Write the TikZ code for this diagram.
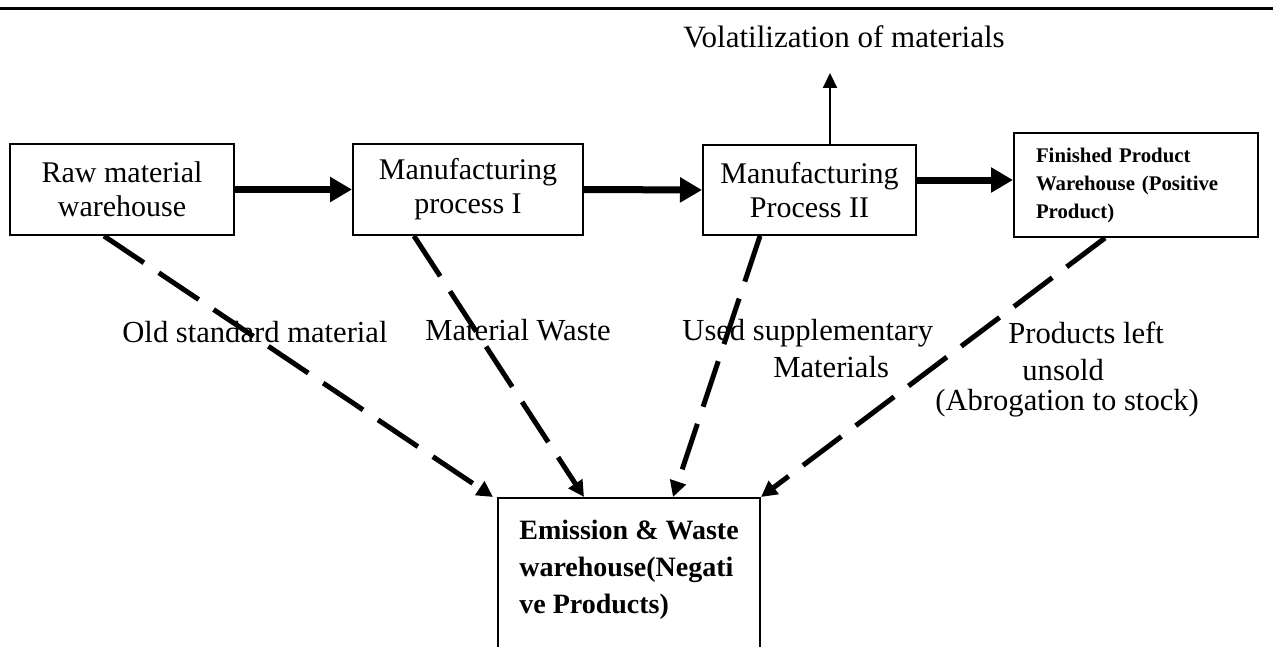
\documentclass[tikz,border=0pt]{standalone}
\usepackage{fontspec}
\setmainfont{Liberation Serif}
\usetikzlibrary{arrows.meta, positioning}

\begin{document}
\begin{tikzpicture}[x=0.5pt, y=-0.5pt,
    stockbox/.style={draw, line width=1pt, align=center, inner sep=0pt,
                     font=\fontsize{15}{17}\selectfont},
    flow/.style={line width=3.5pt, -{Triangle[length=11pt, width=12pt]}},
    wasteflow/.style={line width=2.5pt, dash pattern=on 24pt off 9pt,
                      -{Triangle[length=8pt, width=8pt]}},
    lbl/.style={inner sep=0pt, align=left, font=\fontsize{15.3}{18.5}\selectfont}]
  \useasboundingbox (0,0) rectangle (1273,647);
  % rule above the figure
  \draw[line width=1.5pt] (0,9) -- (1273,9);
  % stock points along the line
  \node[stockbox, minimum width=112pt, minimum height=45.5pt] (raw) at (122,189.5)
      {Raw material\\warehouse};
  \node[stockbox, minimum width=115pt, minimum height=45.5pt] (proc1) at (468,189.5)
      {Manufacturing\\process I};
  \node[stockbox, minimum width=106.5pt, minimum height=45pt] (proc2) at (809.5,190)
      {Manufacturing\\Process II};
  \node[stockbox, minimum width=122pt, minimum height=52pt, text width=100pt, align=left,
        font=\bfseries\fontsize{10.4}{14}\selectfont] (finished) at (1136,185)
      {Finished Product\\Warehouse (Positive\\Product)};
  \node[stockbox, anchor=north west, minimum width=131pt, align=left, inner ysep=11pt,
        text depth=70pt, font=\bfseries\fontsize{14}{18.5}\selectfont] (waste) at (497,497)
      {Emission \& Waste\\warehouse(Negati\\ve Products)};
  % volatile loss
  \node[font=\fontsize{15.5}{18}\selectfont, anchor=base] (vol) at (844,48)
      {Volatilization of materials};
  \coordinate (voltip) at (830,73);
  \draw[line width=1pt, -{Triangle[length=7.5pt, width=7pt]}] (proc2.north -| voltip) -- (voltip);
  % main material flow
  \draw[flow] (raw.east) -- (proc1.west);
  \draw[flow] (proc1.east) -- (proc2.west);
  \draw[flow] ([yshift=5pt]proc2.east) -- ([yshift=5pt]proc2.east -| finished.west);
  % waste flows
  \draw[wasteflow] ([xshift=-9pt]raw.south) -- ([xshift=-2pt]waste.north west);
  \draw[wasteflow] ([xshift=-27pt]proc1.south) -- ([xshift=-22.5pt]waste.north);
  \draw[wasteflow] ([xshift=-24.75pt]proc2.south) -- ([xshift=22pt]waste.north);
  \draw[wasteflow] ([xshift=-15.5pt]finished.south) -- (waste.north east);
  % labels of the waste flows (base = last line)
  \node[lbl, anchor=base west] (oldlbl) at (122,342) {Old standard material};
  \node[lbl, anchor=base west] (scraplbl) at (425,340) {Material Waste};
  \node[lbl, anchor=base west] (supplbl) at (682,377)
      {Used supplementary\\\hspace*{45.5pt}Materials};
  \node[lbl, anchor=base west] (unsoldlbl) at (935,410)
      {\hspace*{36.5pt}Products left\\\hspace*{43.5pt}unsold\\[-3.5pt](Abrogation to stock)};
\end{tikzpicture}
\end{document}
